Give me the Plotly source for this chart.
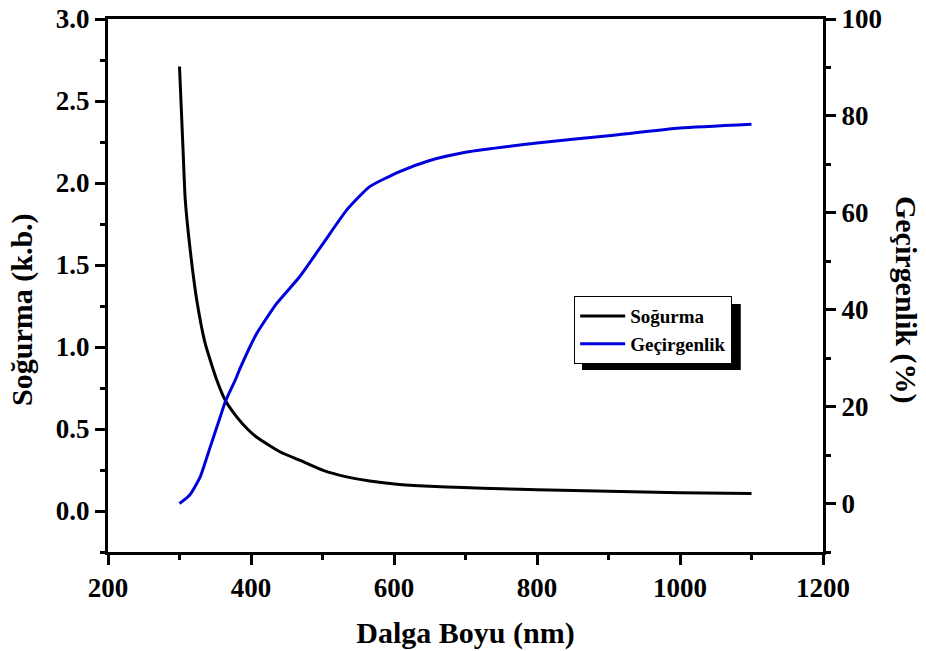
import plotly.graph_objects as go

# Data
wl_abs = [300, 305, 308, 315, 324, 336, 352, 364, 380, 395, 408, 441, 468, 501, 534, 566, 604, 650, 697, 750, 800, 900, 1000, 1100]
absorb = [2.71, 2.20, 1.90, 1.59, 1.29, 1.02, 0.80, 0.675, 0.574, 0.50, 0.45, 0.36, 0.31, 0.248, 0.208, 0.183, 0.163, 0.151, 0.143, 0.136, 0.130, 0.120, 0.112, 0.106]

wl_tr = [300, 307, 315, 329, 343, 357, 364, 378, 385, 408, 436, 468, 501, 534, 566, 608, 650, 700, 800, 900, 1000, 1100]
trans = [0, 0.8, 1.9, 5.5, 11.7, 17.9, 21.0, 25.5, 28.0, 35.1, 41.3, 46.8, 53.7, 60.6, 65.4, 68.5, 70.8, 72.5, 74.4, 75.9, 77.5, 78.3]

x_ticks = [200, 400, 600, 800, 1000, 1200]
y1_ticks = [0.0, 0.5, 1.0, 1.5, 2.0, 2.5, 3.0]
y2_ticks = [0, 20, 40, 60, 80, 100]

FONT = "Liberation Serif"

fig = go.Figure()
fig.add_trace(go.Scatter(x=wl_abs, y=absorb, mode="lines", name="<b>Soğurma</b>",
                         line=dict(color="black", width=3, shape="spline", smoothing=0.5)))
fig.add_trace(go.Scatter(x=wl_tr, y=trans, mode="lines", name="<b>Geçirgenlik</b>", yaxis="y2",
                         line=dict(color="#0000dd", width=3, shape="spline", smoothing=0.5)))

axfont = dict(family=FONT, size=27, color="black")
tick_common = dict(showline=True, linecolor="black", linewidth=3,
                   ticks="outside", ticklen=10, tickwidth=2.5, tickcolor="black",
                   showgrid=False, zeroline=False, tickfont=axfont, automargin=False)
fig.update_layout(
    width=926, height=651,
    margin=dict(l=108, r=103, t=19, b=99),
    paper_bgcolor="white", plot_bgcolor="white",
    font=dict(family=FONT, color="black"),
    xaxis=dict(range=[200, 1200], tickvals=x_ticks, ticktext=[f"<b>{v}</b>" for v in x_ticks],
               mirror=True,
               minor=dict(ticks="outside", ticklen=5, tickwidth=2.5, tickcolor="black", dtick=100, showgrid=False),
               title=dict(text="<b>Dalga Boyu (nm)</b>", font=dict(family=FONT, size=30), standoff=20),
               **tick_common),
    yaxis=dict(range=[-0.25, 3.0], tickvals=y1_ticks, ticktext=[f"<b>{v:.1f}</b>" for v in y1_ticks],
               minor=dict(ticks="outside", ticklen=5, tickwidth=2.5, tickcolor="black", dtick=0.25, showgrid=False),
               **tick_common),
    yaxis2=dict(range=[-10, 100], overlaying="y", side="right", tickvals=y2_ticks,
                ticktext=[f"<b>{v}</b>" for v in y2_ticks],
                minor=dict(ticks="outside", ticklen=5, tickwidth=2.5, tickcolor="black", dtick=10, showgrid=False),
                **tick_common),
    legend=dict(x=0.652, y=0.48, xanchor="left", yanchor="top",
                bgcolor="white", bordercolor="black", borderwidth=1,
                font=dict(family=FONT, size=19, color="black"),
                tracegroupgap=0, itemwidth=45),
    showlegend=True,
)

# Legend drop shadow
fig.add_shape(type="rect", xref="paper", yref="paper", x0=0.663, x1=0.885, y0=0.3415, y1=0.4653,
              fillcolor="black", line=dict(width=0), layer="above")

fig.add_annotation(text="<b>Soğurma (k.b.)</b>", xref="paper", yref="paper", x=-0.1203, y=0.456,
                   xanchor="center", yanchor="middle",
                   textangle=-90, showarrow=False, font=dict(family=FONT, size=30, color="black"))
fig.add_annotation(text="<b>Geçirgenlik (%)</b>", xref="paper", yref="paper", x=1.116, y=0.473,
                   xanchor="center", yanchor="middle",
                   textangle=90, showarrow=False, font=dict(family=FONT, size=30, color="black"))

fig.write_html("out.html")
